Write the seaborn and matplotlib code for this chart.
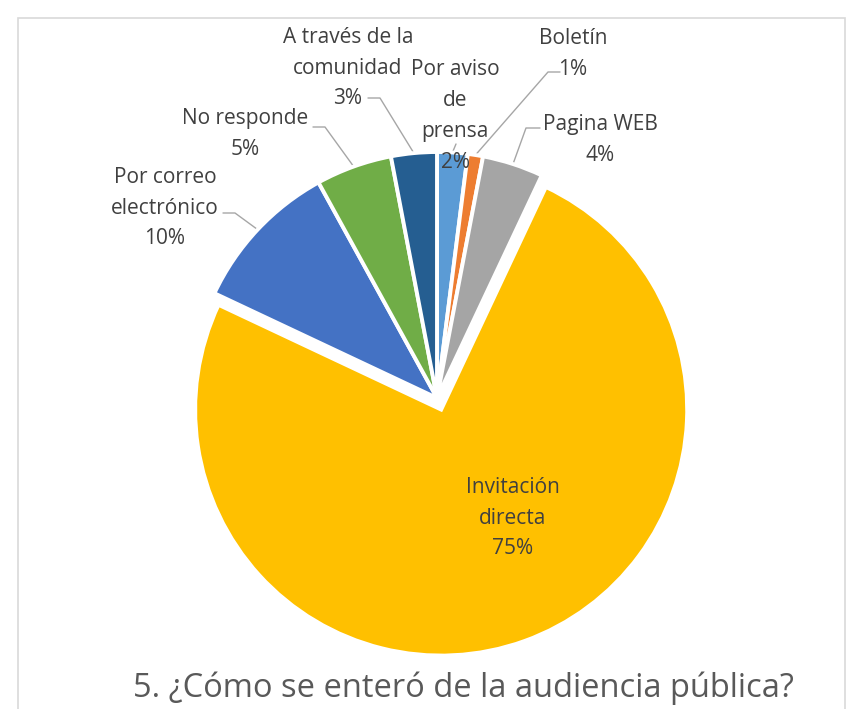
import matplotlib.pyplot as plt
import numpy as np
import seaborn as sns
from matplotlib.patches import Rectangle

# data (clockwise from 12 o'clock)
categories = [
    "Por aviso\nde\nprensa",
    "Boletín",
    "Pagina WEB",
    "Invitación\ndirecta",
    "Por correo\nelectrónico",
    "No responde",
    "A través de la\ncomunidad",
]
shares = [2, 1, 4, 75, 10, 5, 3]
slice_colors = ["#5B9BD5", "#ED7D31", "#A5A5A5", "#FFC000", "#4472C4", "#70AD47", "#255E91"]
explode = [0, 0, 0, 0.05, 0, 0, 0]
title = "5. ¿Cómo se enteró de la audiencia pública?"

# layout, in image pixels (pie centre, radius)
W, H = 855, 709
CX, CY, R = 437, 398, 246
label_px = [(455, 116), (573, 54), (600, 140), (513, 518), (165, 208), (245, 134), (348, 68)]
leader_px = [
    [(456, 144)],
    [(560, 72), (548, 72)],
    [(540, 128), (526, 128)],
    None,
    [(223, 213), (235, 213)],
    [(313, 127), (325, 127)],
    [(368, 98), (380, 98)],
]


def to_data(p):
    return ((p[0] - CX) / R, (CY - p[1]) / R)


sns.set_theme(style="white")
plt.rcParams["font.family"] = ["Open Sans", "DejaVu Sans"]
TEXT = "#404040"

fig = plt.figure(figsize=(W / 100, H / 100), dpi=100)
ax = fig.add_axes([0, 0, 1, 1])

wedges, _ = ax.pie(
    shares,
    colors=slice_colors,
    explode=explode,
    startangle=90,
    counterclock=False,
    radius=1.0,
    wedgeprops={"edgecolor": "white", "linewidth": 2.8},
)

for w, cat, share, pos, lead in zip(wedges, categories, shares, label_px, leader_px):
    tx, ty = to_data(pos)
    ax.text(tx, ty, f"{cat}\n{share}%", ha="center", va="center",
            fontsize=15, color=TEXT, linespacing=1.62)
    if lead is None:
        continue
    mid = np.deg2rad((w.theta1 + w.theta2) / 2)
    pts = [to_data(p) for p in lead] + [(np.cos(mid), np.sin(mid))]
    xs, ys = zip(*pts)
    ax.plot(xs, ys, color="#A6A6A6", lw=1.0, zorder=0.5)

tx, ty = to_data((463, 688))
ax.text(tx, ty, title, ha="center", va="center", fontsize=23.5, color="#595959")

ax.set_xlim(-CX / R, (W - CX) / R)
ax.set_ylim((CY - H) / R, CY / R)
ax.axis("off")

fig.patches.append(Rectangle((18 / W, -0.05), (845 - 18) / W, (H - 18) / H + 0.05,
                             transform=fig.transFigure, fill=False,
                             edgecolor="#D9D9D9", lw=1.2))

fig.savefig("out.png", dpi=100)
